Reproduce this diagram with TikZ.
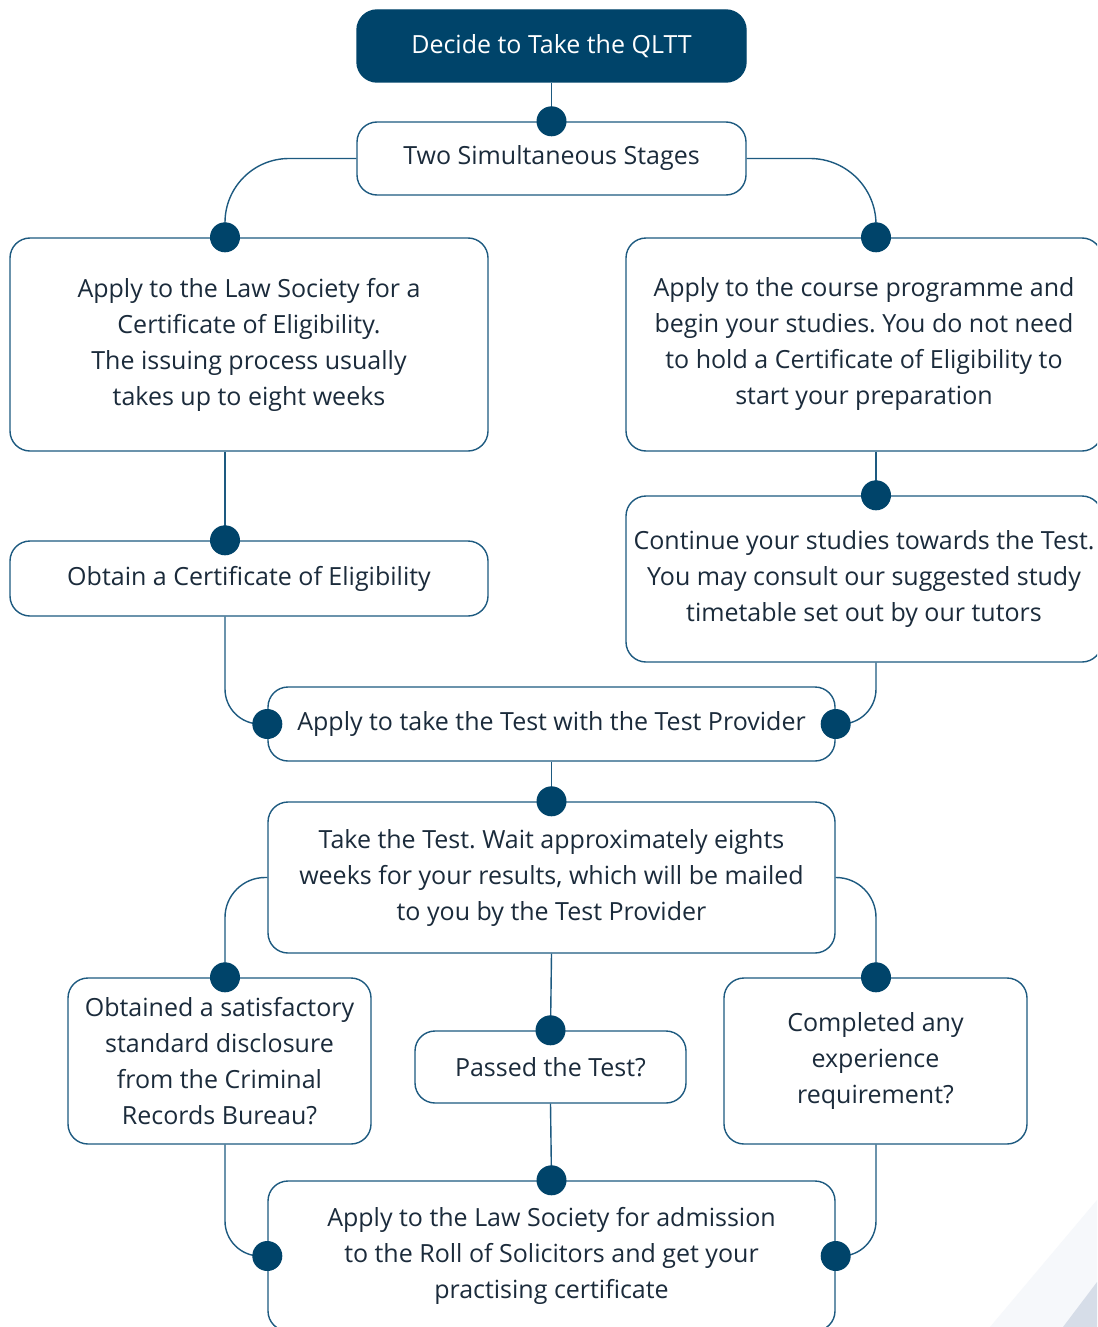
\documentclass[tikz,border=0pt]{standalone}
\usepackage{fontspec}
\setmainfont{Open Sans}
\usepackage{tikz}
\usetikzlibrary{calc}
\frenchspacing

\definecolor{navy}{HTML}{00446A}
\definecolor{linec}{HTML}{1D5A80}
\definecolor{txt}{HTML}{1B2B3B}
\definecolor{bandA}{HTML}{F6F8FB}
\definecolor{bandB}{HTML}{D6DDE8}

\tikzset{
  box/.style={draw=linec, line width=1.4pt, rounded corners=20pt, fill=white,
    text=txt, align=center, inner sep=0pt,
    font=\fontsize{25}{36}\selectfont},
  link/.style={draw=linec, line width=1.4pt},
  dot/.style={fill=navy}
}

\begin{document}
\begin{tikzpicture}[x=1pt,y=-1pt]
\useasboundingbox (0,0) rectangle (1097,1327);
\clip (0,0) rectangle (1097,1327);
\fill[white] (0,0) rectangle (1097,1327);
% corner bands
\fill[bandA] (990,1327) -- (1097,1200) -- (1097,1327) -- cycle;
\fill[bandB] (1063,1327) -- (1097,1282) -- (1097,1327) -- cycle;

% columns for the side links
\coordinate (colL) at (225,0);
\coordinate (colR) at (876,0);

% boxes
\node[box, fill=navy, draw=navy, text=white, minimum width=389pt, minimum height=72pt]
  (top) at (551.5,46) {Decide to Take the QLTT};
\node[box, minimum width=389pt, minimum height=73pt]
  (stages) at (551.5,158.5) {Two Simultaneous Stages};
\node[box, minimum width=478pt, minimum height=213pt] (lawsoc) at (249,344.5)
  {Apply to the Law Society for a\\Certificate of Eligibility.\\The issuing process usually\\takes up to eight weeks};
\node[box, minimum width=476pt, minimum height=213pt] (course) at (864,344.5)
  {Apply to the course programme and\\begin your studies. You do not need\\to hold a Certificate of Eligibility to\\start your preparation};
\node[box, minimum width=478pt, minimum height=75pt] (obtain) at (249,578.5)
  {Obtain a Certificate of Eligibility};
\node[box, minimum width=476pt, minimum height=166pt] (continue) at (864,579)
  {Continue your studies towards the Test.\\You may consult our suggested study\\timetable set out by our tutors};
\node[box, minimum width=567pt, minimum height=74pt] (applytest) at (551.5,724)
  {Apply to take the Test with the Test Provider};
\node[box, minimum width=567pt, minimum height=151pt] (taketest) at (551.5,877.5)
  {Take the Test. Wait approximately eights\\weeks for your results, which will be mailed\\to you by the Test Provider};
\node[box, minimum width=303pt, minimum height=166pt] (crb) at (219.5,1061)
  {Obtained a satisfactory\\standard disclosure\\from the Criminal\\Records Bureau?};
\node[box, minimum width=271pt, minimum height=72pt] (passed) at (550.5,1067)
  {Passed the Test?};
\node[box, minimum width=303pt, minimum height=166pt] (exper) at (875.5,1061)
  {Completed any\\experience\\requirement?};
\node[box, minimum width=567pt, minimum height=150pt] (admission) at (551.5,1256)
  {Apply to the Law Society for admission\\to the Roll of Solicitors and get your\\practising certificate};

% links
\draw[link] (top.south) -- (stages.north);
\draw[link, rounded corners=64pt] (stages.west) -| (colL |- lawsoc.north);
\draw[link, rounded corners=66pt] (stages.east) -| (colR |- course.north);
\draw[link] (colL |- lawsoc.south) -- (colL |- obtain.north);
\draw[link] (colR |- course.south) -- (colR |- continue.north);
\draw[link, rounded corners=35pt] (colL |- obtain.south) |- (applytest.west);
\draw[link, rounded corners=35pt] (colR |- continue.south) |- (applytest.east);
\draw[link] (applytest.south) -- (taketest.north);
\draw[link, rounded corners=40pt] (taketest.west) -| (colL |- crb.north);
\draw[link, rounded corners=40pt] (taketest.east) -| (colR |- exper.north);
\draw[link] (taketest.south) -- (passed.north);
\draw[link] (passed.south) -- (admission.north);
\draw[link, rounded corners=35pt] (colL |- crb.south) |- (admission.west);
\draw[link, rounded corners=35pt] (colR |- exper.south) |- (admission.east);

% dots
\foreach \p in {stages.north, taketest.north, passed.north, admission.north,
    applytest.west, applytest.east, admission.west, admission.east}
  \fill[dot] (\p) circle (15pt);
\foreach \b in {lawsoc, obtain, crb}
  \fill[dot] (colL |- \b.north) circle (15pt);
\foreach \b in {course, continue, exper}
  \fill[dot] (colR |- \b.north) circle (15pt);
\end{tikzpicture}
\end{document}
